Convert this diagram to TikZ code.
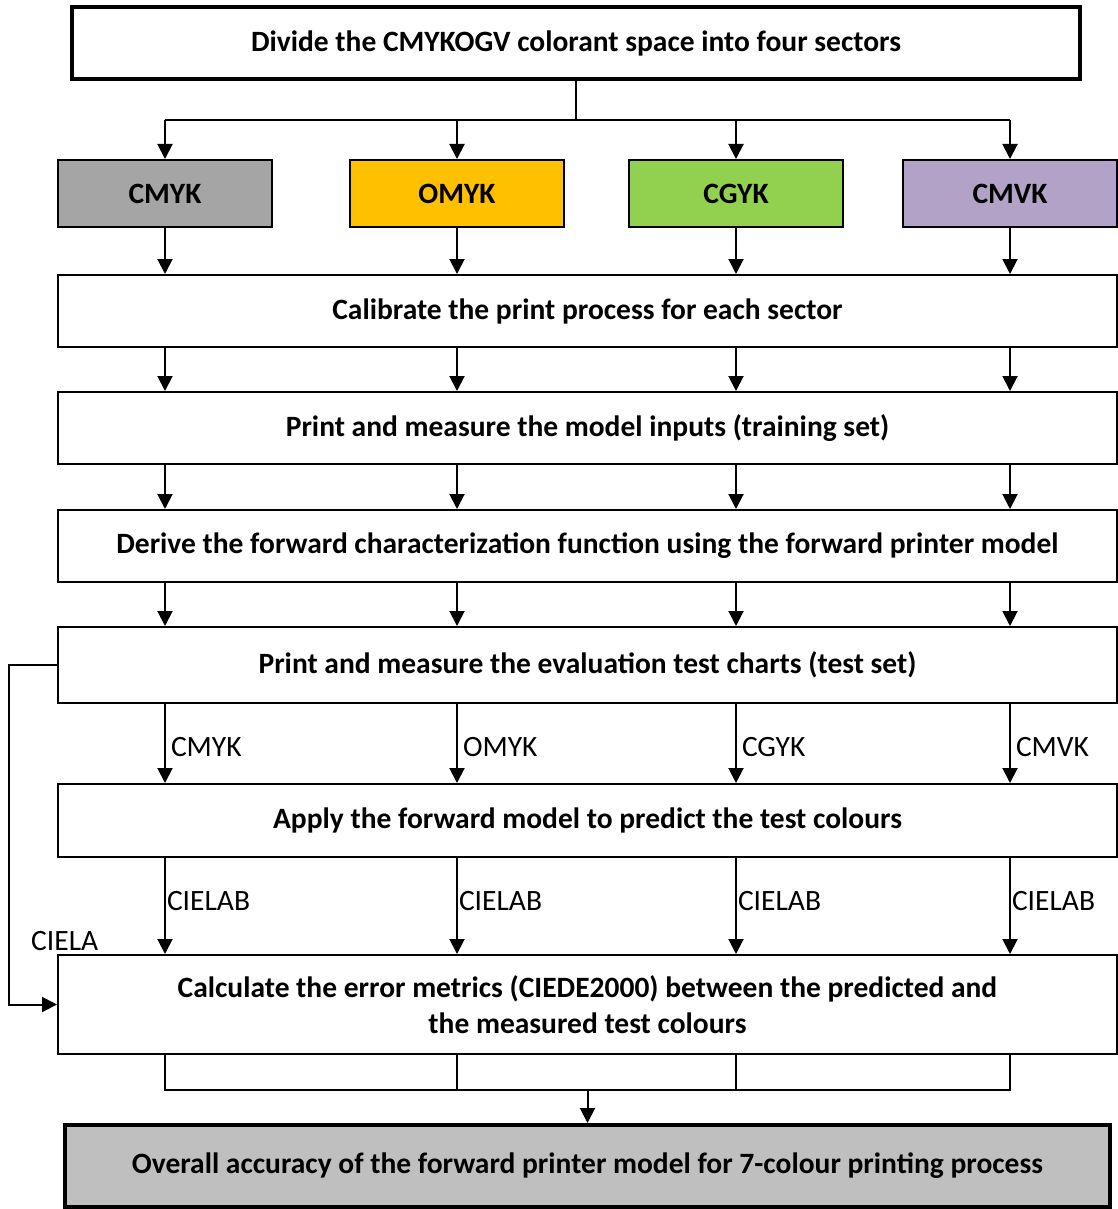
\documentclass[tikz,border=0pt]{standalone}
\usepackage{fontspec}
\setmainfont{Carlito}
\usetikzlibrary{arrows.meta, positioning}
\definecolor{cmykgray}{HTML}{A5A5A5}
\definecolor{omykorange}{HTML}{FFC000}
\definecolor{cgykgreen}{HTML}{92D050}
\definecolor{cmvkviolet}{HTML}{B3A2C7}
\definecolor{finalgray}{HTML}{BFBFBF}

\begin{document}
\begin{tikzpicture}[x=1pt, y=-1pt,
    stepnode/.style={rectangle, draw=black, line width=2pt, minimum width=1059pt, minimum height=72pt, inner sep=0pt, align=center, font=\fontsize{29.5}{36}\selectfont\bfseries},
    headnode/.style={stepnode, line width=4pt, minimum width=1008pt},
    sectornode/.style={rectangle, draw=black, line width=2pt, minimum width=214pt, minimum height=67pt, inner sep=0pt, font=\fontsize{29.5}{34}\selectfont\bfseries},
    lbl/.style={font=\fontsize{29.5}{34}\selectfont, inner xsep=5pt, inner ysep=0pt},
    line/.style={draw=black, line width=2pt},
    arr/.style={line, -{Triangle[length=15pt, width=15pt]}},
    ]
    \useasboundingbox (0,0) rectangle (1118,1209);

    %Nodes
    \node[headnode]                       (divide) at (576,43)   {Divide the CMYKOGV colorant space into four sectors};
    \node[sectornode, fill=cmykgray]      (cmyk)   at (165,193.5) {CMYK};
    \node[sectornode, fill=omykorange]    (omyk)   at (457,193.5) {OMYK};
    \node[sectornode, fill=cgykgreen]     (cgyk)   at (736,193.5) {CGYK};
    \node[sectornode, fill=cmvkviolet]    (cmvk)   at (1010,193.5) {CMVK};
    \node[stepnode]                       (calib)  at (587.5,311)  {Calibrate the print process for each sector};
    \node[stepnode]                       (train)  at (587.5,428)  {Print and measure the model inputs (training set)};
    \node[stepnode]                       (derive) at (587.5,546)  {Derive the forward characterization function using the forward printer model};
    \node[stepnode, minimum height=76pt]  (evalp)  at (587.5,665)  {Print and measure the evaluation test charts (test set)};
    \node[stepnode, minimum height=73pt]  (apply)  at (587.5,820.5) {Apply the forward model to predict the test colours};
    \node[stepnode, minimum height=99pt]  (calc)   at (587.5,1004.5) {Calculate the error metrics (CIEDE2000) between the predicted and\\the measured test colours};
    \node[headnode, fill=finalgray, minimum width=1045pt, minimum height=82pt] (final) at (587.5,1166) {Overall accuracy of the forward printer model for 7-colour printing process};
    \node[lbl, anchor=base west, inner xsep=0pt] (ciela) at (31,950) {CIELA};

    \coordinate (split) at (576,120);
    \coordinate (merge) at (587.5,1090);

    %Lines
    \draw[line] (divide.south) -- (split);
    \draw[line] (cmyk |- split) -- (cmvk |- split);
    \draw[line] (cmyk |- calc.south) -- (cmyk |- merge) -- (cmvk |- merge) -- (cmvk |- calc.south);
    \foreach \s/\t in {cmyk/CMYK, omyk/OMYK, cgyk/CGYK, cmvk/CMVK} {
      \draw[arr] (\s |- split) -- (\s.north);
      \draw[arr] (\s.south) -- (\s |- calib.north);
      \draw[arr] (\s |- calib.south) -- (\s |- train.north);
      \draw[arr] (\s |- train.south) -- (\s |- derive.north);
      \draw[arr] (\s |- derive.south) -- (\s |- evalp.north);
      \draw[arr] (\s |- evalp.south) -- node[lbl, anchor=west, pos=0.55] {\t} (\s |- apply.north);
      \draw[arr] (\s |- apply.south) -- node[lbl, anchor=west, pos=0.45, inner xsep=1pt] {CIELAB} (\s |- calc.north);
      \draw[line] (\s |- calc.south) -- (\s |- merge);
    }
    \draw[arr] (merge) -- (final.north);
    \draw[arr] (evalp.west) -- ++(-48,0) |- (calc.west);
  \end{tikzpicture}
\end{document}
